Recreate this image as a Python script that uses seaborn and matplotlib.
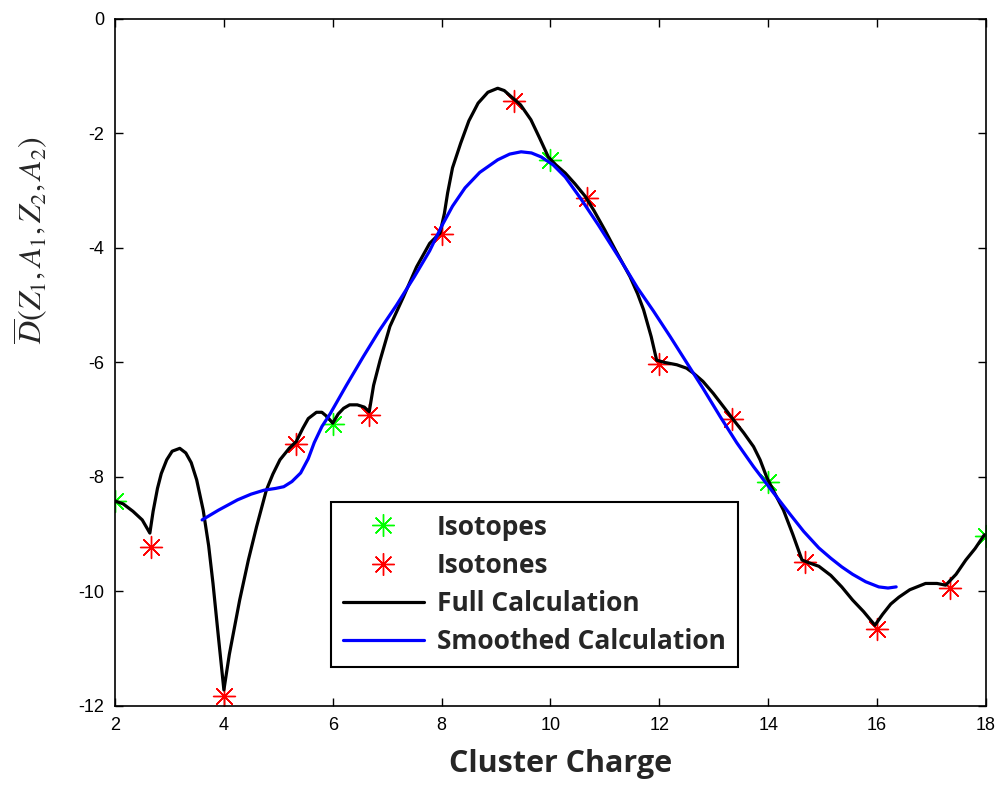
import numpy as np
import pandas as pd
import matplotlib
matplotlib.use("Agg")
import matplotlib.pyplot as plt
import seaborn as sns
from matplotlib.lines import Line2D

# ---- data ----
isotope_x = [2, 6, 10, 14, 18]
isotope_y = [-8.42, -7.08, -2.47, -8.08, -9.03]

isotone_x = [2.667, 4.0, 5.333, 6.667, 8.0, 9.333, 10.667, 12.0, 13.333, 14.667, 16.0, 17.333]
isotone_y = [-9.22, -11.82, -7.42, -6.92, -3.76, -1.43, -3.12, -6.02, -6.99, -9.48, -10.66, -9.94]

full_x = [2.0, 2.15, 2.33, 2.5, 2.64, 2.7, 2.78, 2.85, 2.95, 3.05, 3.19, 3.3, 3.4, 3.5,
          3.62, 3.72, 3.8, 3.9, 4.0, 4.1, 4.2, 4.29, 4.45, 4.6, 4.78, 4.9, 5.03, 5.2,
          5.33, 5.45, 5.55, 5.7, 5.8, 5.9, 6.0, 6.1, 6.2, 6.31, 6.45, 6.58, 6.67,
          6.75, 6.87, 7.05, 7.3, 7.54, 7.78, 7.97, 8.05, 8.11, 8.2, 8.35, 8.5, 8.67,
          8.85, 9.03, 9.15, 9.27, 9.45, 9.64, 9.8, 9.96, 10.1, 10.27, 10.45, 10.64,
          10.8, 11.0, 11.2, 11.46, 11.6, 11.71, 11.85, 11.95, 12.1, 12.32, 12.5, 12.63,
          12.8, 12.99, 13.2, 13.36, 13.55, 13.73, 13.85, 13.97, 14.1, 14.28, 14.45,
          14.62, 14.75, 14.93, 15.15, 15.35, 15.55, 15.75, 15.96, 16.1, 16.25, 16.4,
          16.6, 16.89, 17.1, 17.26, 17.45, 17.63, 17.8, 17.97]
full_y = [-8.42, -8.47, -8.6, -8.75, -8.98, -8.6, -8.2, -7.94, -7.7, -7.55, -7.5, -7.58, -7.75, -8.05,
          -8.58, -9.2, -9.86, -10.8, -11.72, -11.1, -10.6, -10.15, -9.45, -8.87, -8.23, -7.95, -7.7, -7.5,
          -7.38, -7.15, -6.98, -6.87, -6.87, -6.95, -7.06, -6.9, -6.8, -6.74, -6.74, -6.78, -6.86,
          -6.4, -5.96, -5.37, -4.85, -4.33, -3.92, -3.74, -3.4, -3.04, -2.6, -2.17, -1.78, -1.47,
          -1.28, -1.21, -1.25, -1.35, -1.5, -1.76, -2.08, -2.41, -2.55, -2.69, -2.88, -3.1,
          -3.35, -3.69, -4.05, -4.5, -4.8, -5.08, -5.55, -5.96, -6.0, -6.04, -6.1, -6.19,
          -6.33, -6.54, -6.8, -7.0, -7.23, -7.47, -7.7, -8.0, -8.25, -8.58, -9.0,
          -9.45, -9.5, -9.56, -9.72, -9.92, -10.15, -10.35, -10.59, -10.4, -10.22, -10.1,
          -9.97, -9.86, -9.86, -9.89, -9.7, -9.45, -9.25, -9.01]

smooth_x = [3.6, 3.9, 4.25, 4.5, 4.74, 4.95, 5.1, 5.25, 5.41, 5.55, 5.66, 5.8, 5.95, 6.25,
            6.56, 6.85, 7.17, 7.5, 7.78, 8.0, 8.2, 8.43, 8.7, 9.03, 9.25, 9.46, 9.65, 9.83,
            10.05, 10.27, 10.55, 10.88, 11.28, 11.6, 11.89, 12.2, 12.5, 12.8, 13.12, 13.42,
            13.73, 14.05, 14.4, 14.65, 14.93, 15.15, 15.35, 15.55, 15.79, 16.03, 16.2, 16.35]
smooth_y = [-8.75, -8.58, -8.4, -8.3, -8.23, -8.2, -8.17, -8.08, -7.93, -7.68, -7.4, -7.12, -6.9, -6.4,
            -5.9, -5.45, -5.0, -4.5, -4.05, -3.62, -3.27, -2.95, -2.68, -2.46, -2.36, -2.32, -2.34, -2.41,
            -2.55, -2.76, -3.13, -3.6, -4.2, -4.7, -5.1, -5.55, -6.0, -6.45, -6.95, -7.4,
            -7.82, -8.22, -8.65, -8.95, -9.24, -9.42, -9.57, -9.7, -9.83, -9.92, -9.94, -9.92]

x_ticks = [2, 4, 6, 8, 10, 12, 14, 16, 18]
y_ticks = [-12, -10, -8, -6, -4, -2, 0]

# ---- plot ----
sns.set_style("ticks")
plt.rcParams['font.family'] = ['Liberation Sans', 'DejaVu Sans']
plt.rcParams['mathtext.fontset'] = 'stix'

fig = plt.figure(figsize=(10.01, 7.91), dpi=100)
ax = fig.add_axes([0.1149, 0.1075, 0.8701, 0.8685])

star = (8, 2, 0)
sns.scatterplot(x=isotope_x, y=isotope_y, marker=star, color="#00ff00", s=250,
                linewidth=1.0, ax=ax, zorder=2, legend=False)
sns.scatterplot(x=isotone_x, y=isotone_y, marker=star, color="#ff0000", s=250,
                linewidth=1.0, ax=ax, zorder=2, legend=False)

df_full = pd.DataFrame({"x": full_x, "y": full_y})
df_smooth = pd.DataFrame({"x": smooth_x, "y": smooth_y})
sns.lineplot(data=df_full, x="x", y="y", sort=False, estimator=None, color="black",
             linewidth=2.3, ax=ax, zorder=3)
sns.lineplot(data=df_smooth, x="x", y="y", sort=False, estimator=None, color="#0000ff",
             linewidth=2.3, ax=ax, zorder=4)

ax.set_xlim(2, 18)
ax.set_ylim(-12, 0)
ax.set_xticks(x_ticks)
ax.set_yticks(y_ticks)
ax.set_xticklabels([str(t) for t in x_ticks])
ax.set_yticklabels([str(t) for t in y_ticks])
ax.tick_params(direction="in", length=6, width=1.0, top=True, right=True,
               labelsize=13, colors="black", pad=8)
for sp in ax.spines.values():
    sp.set_visible(True)
    sp.set_linewidth(1.2)
    sp.set_color("black")

ax.set_xlabel("Cluster Charge", fontsize=22, fontweight="bold",
              family=["Open Sans", "DejaVu Sans"])
ax.xaxis.set_label_coords(0.512, -0.063)
ax.set_ylabel(r"$\overline{D}(Z_1,A_1,Z_2,A_2)$", fontsize=23)
ax.yaxis.set_label_coords(-0.075, 0.678)

handles = [
    Line2D([], [], linestyle="", marker=star, color="#00ff00", markersize=16, markeredgewidth=1.0),
    Line2D([], [], linestyle="", marker=star, color="#ff0000", markersize=16, markeredgewidth=1.0),
    Line2D([], [], color="black", linewidth=2.3),
    Line2D([], [], color="#0000ff", linewidth=2.3),
]
labels = ["Isotopes", "Isotones", "Full Calculation", "Smoothed Calculation"]
leg = ax.legend(handles, labels, loc="lower left", bbox_to_anchor=(0.248, 0.057),
                prop={"family": ["Open Sans", "DejaVu Sans"], "weight": "bold", "size": 19},
                frameon=True, fancybox=False, edgecolor="black", framealpha=1,
                handlelength=3.07, handletextpad=0.5, borderpad=0.45, labelspacing=0.42,
                borderaxespad=0)
leg.get_frame().set_linewidth(1.5)

fig.savefig("out.png", dpi=100)
